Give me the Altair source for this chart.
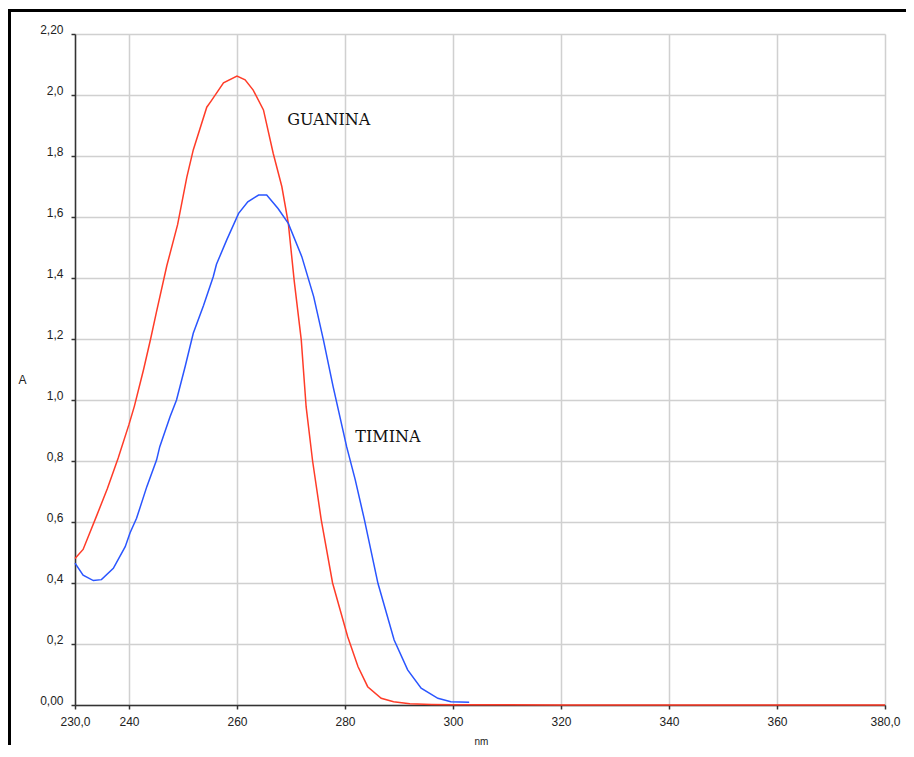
import altair as alt
import pandas as pd

# ---- data ----
guanina_nm = [230, 231.5, 234, 236, 238, 240, 241, 242.7, 244, 245.1, 247, 249, 250.7, 251.9,
              254.4, 255.2, 257.5, 260, 261.5, 263, 264.9, 266.7, 268.3, 269.5, 270.6, 271.9,
              272.8, 274, 275.6, 277.7, 280.5, 282.4, 284.2, 286.7, 289, 292, 296, 300, 320,
              340, 360, 380]
guanina_a = [0.48, 0.51, 0.62, 0.71, 0.81, 0.92, 0.98, 1.10, 1.20, 1.29, 1.44, 1.575, 1.73, 1.82,
             1.96, 1.98, 2.04, 2.062, 2.05, 2.016, 1.951, 1.809, 1.70, 1.58, 1.39, 1.197,
             0.978, 0.80, 0.607, 0.40, 0.224, 0.126, 0.060, 0.022, 0.011, 0.004, 0.002, 0.001, 0.0,
             0.0, 0.0, 0.0]

timina_nm = [230, 231.5, 233.4, 234.9, 237.1, 239.3, 240.2, 241.4, 243.3, 245.1, 245.7, 247.6,
             248.8, 250.4, 251.9, 253.8, 255.6, 256.2, 258.1, 260.3, 262, 264, 265.5, 267.6,
             269.5, 272, 274.2, 276, 277.8, 280.3, 281.9, 283.6, 286.1, 289.1, 291.6, 294.1,
             297.2, 299.6, 303]
timina_a = [0.465, 0.426, 0.408, 0.411, 0.448, 0.519, 0.565, 0.612, 0.716, 0.803, 0.847, 0.945,
            1.0, 1.11, 1.219, 1.31, 1.404, 1.445, 1.525, 1.612, 1.65, 1.672, 1.672, 1.628,
            1.579, 1.47, 1.339, 1.197, 1.044, 0.847, 0.738, 0.607, 0.399, 0.213, 0.115, 0.055,
            0.022, 0.011, 0.009]

series_names = ["GUANINA", "TIMINA"]
series_colors = ["#ff3c28", "#2a55ff"]

label_text = ["GUANINA", "TIMINA"]
label_nm = [269.3, 281.9]
label_a = [1.918, 0.879]

x_ticks = [230, 240, 260, 280, 300, 320, 340, 360, 380]
y_ticks = [0, 0.2, 0.4, 0.6, 0.8, 1.0, 1.2, 1.4, 1.6, 1.8, 2.0, 2.2]

# ---- build tables ----
df = pd.concat([
    pd.DataFrame({"nm": guanina_nm, "A": guanina_a, "s": "GUANINA"}),
    pd.DataFrame({"nm": timina_nm, "A": timina_a, "s": "TIMINA"}),
], ignore_index=True)
labels = pd.DataFrame({"nm": label_nm, "A": label_a, "t": label_text})

FONT = "Liberation Sans"
GRID = "#d0d0d0"
DARK = "#333333"

x_axis = alt.Axis(
    values=x_ticks,
    labelExpr="datum.value == 230 ? '230,0' : (datum.value == 380 ? '380,0' : format(datum.value, 'd'))",
    title="nm", titleFont=FONT, titleFontSize=10, titleFontWeight="normal", titleColor="#222",
    titleX=406, titleY=36, titleAlign="center", titleBaseline="middle",
    grid=True, gridColor=GRID, gridWidth=1.5,
    domainColor=DARK, domainWidth=1.5, tickColor=DARK, tickSize=4, tickWidth=1.5,
    labelFont=FONT, labelFontSize=12, labelColor="#222", labelPadding=7,
    labelFlush=False, labelOverlap=False,
)
y_axis = alt.Axis(
    values=y_ticks,
    labelExpr="datum.value == 0 ? '0,00' : (abs(datum.value - 2.2) < 0.001 ? '2,20' : replace(format(datum.value, '.1f'), '.', ','))",
    title="A", titleAngle=0, titleFont=FONT, titleFontSize=12, titleFontWeight="normal",
    titleColor="#222", titleX=-53, titleY=345, titleAlign="center", titleBaseline="middle",
    grid=True, gridColor=GRID, gridWidth=1.5,
    domainColor=DARK, domainWidth=1.5, tickColor=DARK, tickSize=4, tickWidth=1.5,
    labelFont=FONT, labelFontSize=12, labelColor="#222", labelPadding=8,
    labelBaseline="alphabetic", labelOffset=-1,
    labelFlush=False, labelOverlap=False,
)

xs = alt.Scale(domain=[230, 380], nice=False, zero=False)
ys = alt.Scale(domain=[0, 2.2], nice=False)

lines = alt.Chart(df).mark_line(strokeWidth=1.5, interpolate="linear").encode(
    x=alt.X("nm:Q", scale=xs, axis=x_axis),
    y=alt.Y("A:Q", scale=ys, axis=y_axis),
    color=alt.Color("s:N", scale=alt.Scale(domain=series_names, range=series_colors), legend=None),
    detail="s:N",
)

texts = alt.Chart(labels).mark_text(
    align="left", baseline="middle", font="DejaVu Serif", fontSize=16, color="#111"
).encode(
    x=alt.X("nm:Q", scale=xs),
    y=alt.Y("A:Q", scale=ys),
    text="t:N",
)

frame_top = alt.Chart(labels).mark_rule(color="black", strokeWidth=3).encode(
    x=alt.value(-67), x2=alt.value(831), y=alt.value(-23.5)
)
frame_left = alt.Chart(labels).mark_rule(color="black", strokeWidth=3).encode(
    x=alt.value(-65.5), y=alt.value(-25), y2=alt.value(720)
)

chart = alt.layer(lines, texts, frame_top, frame_left).properties(
    width=810, height=671,
    autosize=alt.AutoSizeParams(type="none"),
    padding={"left": 67, "top": 26, "right": 21, "bottom": 40},
    background="white",
).configure_view(stroke=None)

chart.save("out.html", embed_options={"renderer": "svg", "actions": False})
